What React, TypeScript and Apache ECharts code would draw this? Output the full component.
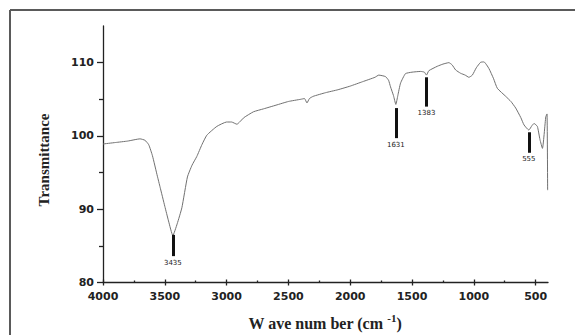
import React, { useEffect, useRef } from "react";
import * as echarts from "echarts";

const waveNumbers = [
  4000, 3900, 3800, 3700, 3660, 3630, 3600, 3560, 3538, 3500, 3470, 3435, 3400, 3362, 3317, 3280, 3241, 3200,
  3160, 3079, 3000, 2960, 2917, 2860, 2782, 2700, 2600, 2500, 2400, 2370, 2350, 2330, 2300, 2200, 2100, 2000,
  1900, 1800, 1769, 1715, 1690, 1674, 1650, 1631, 1615, 1593, 1553, 1500, 1431, 1400, 1383, 1364, 1296, 1250,
  1202, 1176, 1147, 1107, 1070, 1040, 1012, 980, 945, 918, 878, 840, 810, 742, 700, 661, 620, 594, 555, 530,
  513, 486, 465, 445, 418, 408, 403,
];
const transmittance = [
  98.9, 99.1, 99.3, 99.6, 99.4, 98.8, 97.3, 94.5, 93.0, 90.4, 88.4, 86.4, 88.0, 90.2, 94.4, 96.0, 97.2, 98.8,
  100.1, 101.3, 101.9, 101.9, 101.6, 102.5, 103.3, 103.7, 104.2, 104.7, 105.0, 105.1, 104.5, 105.1, 105.4, 105.9, 106.3, 106.8,
  107.4, 108.0, 108.3, 108.1, 107.6, 106.7, 105.5, 104.3, 105.5, 107.2, 108.5, 108.7, 108.8, 108.7, 108.3, 108.9, 109.5, 109.8,
  110.0, 109.7, 109.0, 108.55, 108.3, 108.0, 108.3, 109.3, 110.05, 110.1, 109.2, 107.8, 106.5, 105.4, 104.7, 103.8, 102.5, 101.5, 100.8, 101.4,
  101.7, 101.3, 99.5, 98.3, 102.6, 103.0, 92.6,
];

const xMajorTicks = [4000, 3500, 3000, 2500, 2000, 1500, 1000, 500];
const xMinorTicks = [3750, 3250, 2750, 2250, 1750, 1250, 750];
const yMajorTicks = [80, 90, 100, 110];
const yMinorTicks = [85, 95, 105];

const peakLabels = ["3435", "1631", "1383", "555"];
const peakPositions = [3435, 1631, 1383, 555];
const peakBarTop = [86.5, 103.8, 108.0, 100.5];
const peakBarBottom = [83.6, 99.7, 104.0, 97.7];

export default function App() {
  const ref = useRef<HTMLDivElement>(null);
  useEffect(() => {
    if (!ref.current) return;
    const chart = echarts.init(ref.current, null, { renderer: "svg" });
    const tickFont = { fontFamily: "DejaVu Sans", fontWeight: "bold" as const, fontSize: 11, color: "#222" };
    const fmt = (v: number) => String(v);
    const xBase = { type: "value" as const, min: 400, max: 4000, inverse: true, gridIndex: 0, splitLine: { show: false } };
    const yBase = { type: "value" as const, min: 80, max: 115, gridIndex: 0, splitLine: { show: false } };
    const option: any = {
      animation: false,
      backgroundColor: "#fff",
      grid: { left: 103, right: 27, top: 26, bottom: 52.5 },
      xAxis: [
        {
          ...xBase,
          axisLine: { show: true, onZero: false, lineStyle: { color: "#222", width: 1.3 } },
          axisTick: { show: true, inside: true, length: 3, customValues: xMajorTicks, lineStyle: { color: "#222", width: 1.3 } },
          axisLabel: { show: true, customValues: xMajorTicks, margin: 8, formatter: fmt, ...tickFont },
        },
        {
          ...xBase,
          position: "bottom",
          axisLine: { show: false, onZero: false },
          axisTick: { show: true, inside: false, length: 3, customValues: xMajorTicks, lineStyle: { color: "#222", width: 1.3 } },
          axisLabel: { show: false },
        },
        {
          ...xBase,
          position: "bottom",
          axisLine: { show: false, onZero: false },
          axisTick: { show: true, inside: true, length: 2, customValues: xMinorTicks, lineStyle: { color: "#222", width: 1.3 } },
          axisLabel: { show: false },
        },
      ],
      yAxis: [
        {
          ...yBase,
          axisLine: { show: true, onZero: false, lineStyle: { color: "#222", width: 1.3 } },
          axisTick: { show: true, inside: false, length: 6, customValues: yMajorTicks, lineStyle: { color: "#222", width: 1.3 } },
          axisLabel: { show: true, customValues: yMajorTicks, margin: 9, formatter: fmt, ...tickFont },
        },
        {
          ...yBase,
          position: "left",
          axisLine: { show: false, onZero: false },
          axisTick: { show: true, inside: false, length: 4, customValues: yMinorTicks, lineStyle: { color: "#222", width: 1.3 } },
          axisLabel: { show: false },
        },
      ],
      series: [
        {
          type: "line",
          xAxisIndex: 0,
          yAxisIndex: 0,
          data: waveNumbers.map((w, i) => [w, transmittance[i]]),
          showSymbol: false,
          smooth: 0.15,
          lineStyle: { color: "#707070", width: 1 },
          markLine: {
            silent: true,
            symbol: ["none", "none"],
            lineStyle: { color: "#111", width: 3, type: "solid" },
            label: {
              show: true,
              position: "end",
              distance: 3,
              fontFamily: "DejaVu Sans",
              fontSize: 7,
              color: "#222",
            },
            data: peakPositions.map((p, i) => [
              { coord: [p, peakBarTop[i]] },
              { coord: [p, peakBarBottom[i]], label: { formatter: peakLabels[i] } },
            ]),
          },
        },
      ],
      graphic: [
        { type: "line", shape: { x1: 10, y1: 10, x2: 10, y2: 335 }, style: { stroke: "#5a5a5a", lineWidth: 2 } },
        { type: "line", shape: { x1: 10, y1: 10, x2: 575, y2: 10 }, style: { stroke: "#5a5a5a", lineWidth: 2 } },
        {
          type: "text",
          x: 44,
          y: 160,
          rotation: Math.PI / 2,
          style: {
            text: "Transmittance",
            font: "bold 15px 'Liberation Serif'",
            fill: "#222",
            align: "center",
            verticalAlign: "middle",
          },
        },
        {
          type: "text",
          x: 325,
          y: 323,
          style: {
            text: "W ave num ber (cm {sup|-1})",
            font: "bold 16px 'Liberation Serif'",
            fill: "#222",
            align: "center",
            verticalAlign: "middle",
            rich: {
              sup: { fontFamily: "Liberation Serif", fontWeight: "bold", fontSize: 11, padding: [0, 0, 10, 0], fill: "#222" },
            },
          },
        },
      ],
    };
    chart.setOption(option);
    return () => chart.dispose();
  }, []);
  return (
    <div
      ref={ref}
      style={{ position: "absolute", left: 0, top: 0, width: 575, height: 335, background: "#fff" }}
    />
  );
}
